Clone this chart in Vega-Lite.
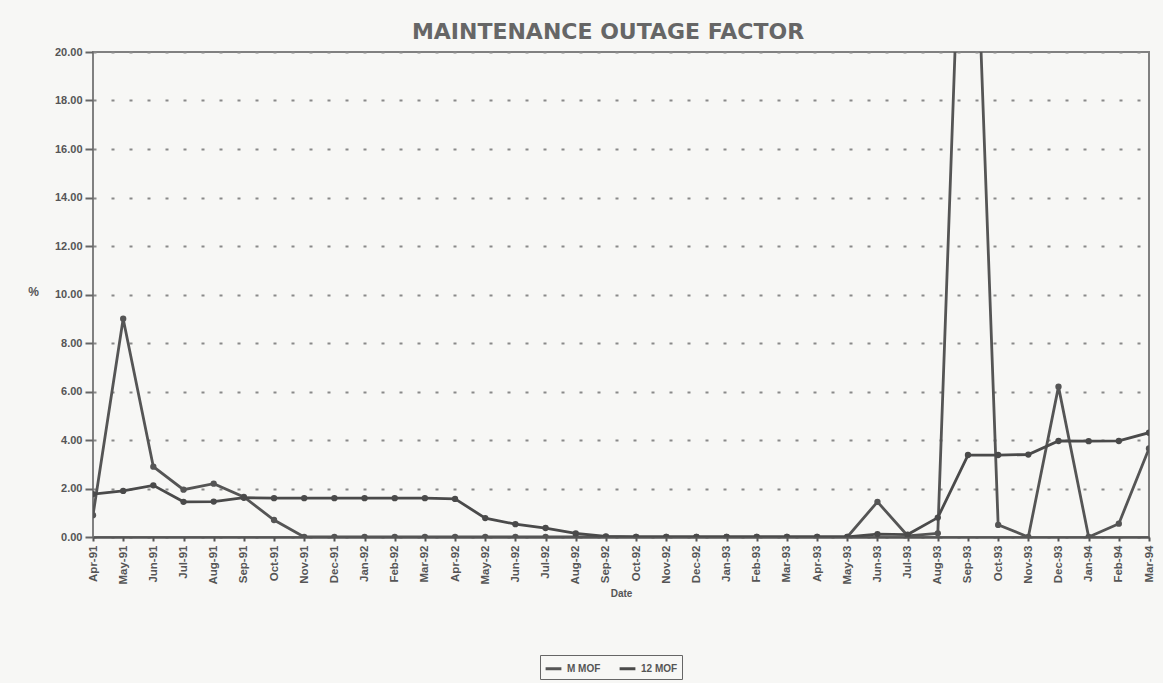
{
  "$schema": "https://vega.github.io/schema/vega-lite/v6.json",
  "width": 1056,
  "height": 485,
  "autosize": {"type": "none"},
  "padding": {"left": 93, "top": 52, "right": 14, "bottom": 146},
  "background": "#f7f7f5",
  "title": {
    "text": "MAINTENANCE OUTAGE FACTOR",
    "font": "DejaVu Sans",
    "fontSize": 22,
    "fontWeight": "bold",
    "color": "#666666",
    "anchor": "middle",
    "dx": -13,
    "offset": 2
  },
  "config": {
    "view": {"stroke": "#808080", "strokeWidth": 2},
    "font": "Liberation Sans"
  },
  "data": {
    "values": [
      {"Date": "Apr-91", "series": "M MOF", "value": 0.9},
      {"Date": "May-91", "series": "M MOF", "value": 9.0},
      {"Date": "Jun-91", "series": "M MOF", "value": 2.9},
      {"Date": "Jul-91", "series": "M MOF", "value": 1.95},
      {"Date": "Aug-91", "series": "M MOF", "value": 2.2},
      {"Date": "Sep-91", "series": "M MOF", "value": 1.65},
      {"Date": "Oct-91", "series": "M MOF", "value": 0.7},
      {"Date": "Nov-91", "series": "M MOF", "value": 0},
      {"Date": "Dec-91", "series": "M MOF", "value": 0},
      {"Date": "Jan-92", "series": "M MOF", "value": 0},
      {"Date": "Feb-92", "series": "M MOF", "value": 0},
      {"Date": "Mar-92", "series": "M MOF", "value": 0},
      {"Date": "Apr-92", "series": "M MOF", "value": 0},
      {"Date": "May-92", "series": "M MOF", "value": 0},
      {"Date": "Jun-92", "series": "M MOF", "value": 0},
      {"Date": "Jul-92", "series": "M MOF", "value": 0},
      {"Date": "Aug-92", "series": "M MOF", "value": 0},
      {"Date": "Sep-92", "series": "M MOF", "value": 0},
      {"Date": "Oct-92", "series": "M MOF", "value": 0},
      {"Date": "Nov-92", "series": "M MOF", "value": 0},
      {"Date": "Dec-92", "series": "M MOF", "value": 0},
      {"Date": "Jan-93", "series": "M MOF", "value": 0},
      {"Date": "Feb-93", "series": "M MOF", "value": 0},
      {"Date": "Mar-93", "series": "M MOF", "value": 0},
      {"Date": "Apr-93", "series": "M MOF", "value": 0},
      {"Date": "May-93", "series": "M MOF", "value": 0},
      {"Date": "Jun-93", "series": "M MOF", "value": 1.45},
      {"Date": "Jul-93", "series": "M MOF", "value": 0.05},
      {"Date": "Aug-93", "series": "M MOF", "value": 0.15},
      {"Date": "Sep-93", "series": "M MOF", "value": 35},
      {"Date": "Oct-93", "series": "M MOF", "value": 0.5},
      {"Date": "Nov-93", "series": "M MOF", "value": 0},
      {"Date": "Dec-93", "series": "M MOF", "value": 6.2},
      {"Date": "Jan-94", "series": "M MOF", "value": 0},
      {"Date": "Feb-94", "series": "M MOF", "value": 0.55},
      {"Date": "Mar-94", "series": "M MOF", "value": 3.65},
      {"Date": "Apr-91", "series": "12 MOF", "value": 1.77},
      {"Date": "May-91", "series": "12 MOF", "value": 1.9},
      {"Date": "Jun-91", "series": "12 MOF", "value": 2.13},
      {"Date": "Jul-91", "series": "12 MOF", "value": 1.45},
      {"Date": "Aug-91", "series": "12 MOF", "value": 1.46},
      {"Date": "Sep-91", "series": "12 MOF", "value": 1.62},
      {"Date": "Oct-91", "series": "12 MOF", "value": 1.6},
      {"Date": "Nov-91", "series": "12 MOF", "value": 1.6},
      {"Date": "Dec-91", "series": "12 MOF", "value": 1.6},
      {"Date": "Jan-92", "series": "12 MOF", "value": 1.6},
      {"Date": "Feb-92", "series": "12 MOF", "value": 1.6},
      {"Date": "Mar-92", "series": "12 MOF", "value": 1.6},
      {"Date": "Apr-92", "series": "12 MOF", "value": 1.57},
      {"Date": "May-92", "series": "12 MOF", "value": 0.78},
      {"Date": "Jun-92", "series": "12 MOF", "value": 0.53},
      {"Date": "Jul-92", "series": "12 MOF", "value": 0.37},
      {"Date": "Aug-92", "series": "12 MOF", "value": 0.15},
      {"Date": "Sep-92", "series": "12 MOF", "value": 0.02},
      {"Date": "Oct-92", "series": "12 MOF", "value": 0},
      {"Date": "Nov-92", "series": "12 MOF", "value": 0},
      {"Date": "Dec-92", "series": "12 MOF", "value": 0},
      {"Date": "Jan-93", "series": "12 MOF", "value": 0},
      {"Date": "Feb-93", "series": "12 MOF", "value": 0},
      {"Date": "Mar-93", "series": "12 MOF", "value": 0},
      {"Date": "Apr-93", "series": "12 MOF", "value": 0},
      {"Date": "May-93", "series": "12 MOF", "value": 0},
      {"Date": "Jun-93", "series": "12 MOF", "value": 0.12},
      {"Date": "Jul-93", "series": "12 MOF", "value": 0.1},
      {"Date": "Aug-93", "series": "12 MOF", "value": 0.8},
      {"Date": "Sep-93", "series": "12 MOF", "value": 3.38},
      {"Date": "Oct-93", "series": "12 MOF", "value": 3.38},
      {"Date": "Nov-93", "series": "12 MOF", "value": 3.4},
      {"Date": "Dec-93", "series": "12 MOF", "value": 3.96},
      {"Date": "Jan-94", "series": "12 MOF", "value": 3.95},
      {"Date": "Feb-94", "series": "12 MOF", "value": 3.96},
      {"Date": "Mar-94", "series": "12 MOF", "value": 4.3}
    ]
  },
  "mark": {
    "type": "line",
    "clip": true,
    "strokeWidth": 2.8,
    "point": {"filled": true, "size": 40}
  },
  "encoding": {
    "x": {
      "field": "Date",
      "type": "ordinal",
      "sort": null,
      "scale": {"type": "point", "padding": 0},
      "axis": {
        "title": "Date",
        "titleFont": "Liberation Sans",
        "titleFontSize": 10,
        "titleFontWeight": "bold",
        "titleColor": "#555555",
        "titlePadding": 5,
        "labelAngle": 270,
        "labelFont": "Liberation Sans",
        "labelFontSize": 11.5,
        "labelFontWeight": "bold",
        "labelColor": "#555555",
        "labelPadding": 4,
        "domainColor": "#555555",
        "domainWidth": 2.5,
        "tickColor": "#555555",
        "tickSize": 4,
        "tickWidth": 2,
        "grid": false
      }
    },
    "y": {
      "field": "value",
      "type": "quantitative",
      "scale": {"domain": [0, 20], "nice": false, "zero": true},
      "axis": {
        "title": "%",
        "titleAngle": 0,
        "titleX": -60,
        "titleY": 246,
        "titleFont": "Liberation Sans",
        "titleFontSize": 12,
        "titleFontWeight": "bold",
        "titleColor": "#555555",
        "values": [0, 2, 4, 6, 8, 10, 12, 14, 16, 18, 20],
        "format": ".2f",
        "labelFont": "Liberation Sans",
        "labelFontSize": 11,
        "labelFontWeight": "bold",
        "labelColor": "#555555",
        "labelPadding": 3,
        "domain": false,
        "tickColor": "#666666",
        "tickSize": 8,
        "tickWidth": 2,
        "grid": true,
        "gridColor": "#8a8a8a",
        "gridWidth": 2,
        "gridDash": [3, 15]
      }
    },
    "color": {
      "field": "series",
      "type": "nominal",
      "sort": ["M MOF", "12 MOF"],
      "scale": {"range": ["#555555", "#4a4a4a"]},
      "legend": {
        "title": null,
        "orient": "none",
        "direction": "horizontal",
        "legendX": 447,
        "legendY": 603,
        "strokeColor": "#666666",
        "padding": 4,
        "labelFont": "Liberation Sans",
        "labelFontSize": 10,
        "labelFontWeight": "bold",
        "labelColor": "#555555",
        "symbolType": "stroke",
        "symbolStrokeWidth": 3,
        "symbolSize": 250,
        "columnPadding": 12
      }
    }
  }
}
